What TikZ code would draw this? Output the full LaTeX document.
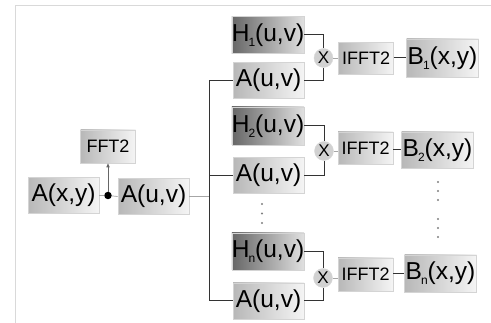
\documentclass[tikz,border=0pt]{standalone}
\usepackage{fontspec}
\setmainfont{Liberation Sans}
\usetikzlibrary{arrows.meta}
\newcommand{\mysub}[1]{\kern-1pt\raisebox{-5pt}{\fontsize{12}{12}\selectfont #1}}
\begin{document}
\begin{tikzpicture}[x=1pt,y=-1pt,
 box/.style={draw=black!17, line width=0.6pt, inner sep=0pt, minimum width=71pt, minimum height=36pt, left color=black!28, right color=black!4, font=\fontsize{24.5}{24.5}\selectfont},
 hbox/.style={box, minimum width=68pt, minimum height=37pt, left color=black!60, right color=black!12},
 opbox/.style={box, minimum width=55pt, minimum height=32pt, font=\fontsize{18}{18}\selectfont},
 mult/.style={circle, draw=black!15, fill=black!18, minimum size=19pt, inner sep=0pt, font=\fontsize{17}{17}\selectfont},
 wire/.style={draw=black!80, line width=1pt},
 lwire/.style={draw=black!35, line width=0.7pt},
 vdot/.style={circle, fill=black!50, inner sep=0pt, minimum size=2.4pt},
]
\fill[white] (0,0) rectangle (491,323);
\useasboundingbox (0,0) rectangle (491,323);
% frame
\draw[black!15, line width=1pt] (15,323) -- (15,6) -- (491,6);

% left part
\node[box] (axy) at (63.5,195.5) {A(x,y)};
\node[box] (auv) at (153.5,196.5) {A(u,v)};
\node[opbox, minimum height=33pt] (fft) at (108,146.5) {FFT2};
\node[circle, fill=black, inner sep=0pt, minimum size=7.5pt] (dot) at (108,195.5) {};
\draw[lwire] (axy.east) -- (dot);
\draw[lwire] (dot) -- (auv.west);
\draw[draw=black!60, line width=0.7pt, -{Triangle[length=4pt,width=3.2pt]}] (dot) -- (fft.south);

% bus
\coordinate (bt) at (209,80.5);
\coordinate (bb) at (209,301);
\coordinate (bm) at (209,196.5);
\draw[lwire] (auv.east) -- (bm);
\draw[wire] (bt) -- (bb);

% group 1
\node[hbox] (h1) at (268,35) {H\mysub{1}(u,v)};
\node[box] (a1) at (268.5,80.5) {A(u,v)};
\node[mult] (m1) at (323.5,58) {X};
\node[opbox] (f1) at (366,58.5) {IFFT2};
\node[box, minimum width=72pt, minimum height=38pt] (b1) at (442.5,58) {B\mysub{1}(x,y)};
% group 2
\node[hbox, minimum height=38pt] (h2) at (268,126) {H\mysub{2}(u,v)};
\node[box] (a2) at (268.5,175.5) {A(u,v)};
\node[mult] (m2) at (324,151) {X};
\node[opbox] (f2) at (365.5,148) {IFFT2};
\node[box, minimum width=72pt, minimum height=36pt] (b2) at (437.5,150) {B\mysub{2}(x,y)};
% group n
\node[hbox] (hn) at (268,251.5) {H\mysub{n}(u,v)};
\node[box] (an) at (268.5,301) {A(u,v)};
\node[mult] (mn) at (323,278) {X};
\node[opbox, minimum height=33pt] (fn) at (365.5,274.5) {IFFT2};
\node[box, minimum width=72pt, minimum height=37pt] (bn) at (440.5,273.5) {B\mysub{n}(x,y)};

% connectors
\foreach \h/\a/\m/\f/\b in {h1/a1/m1/f1/b1, h2/a2/m2/f2/b2, hn/an/mn/fn/bn}{
  \draw[wire] (\h.east) -| (\m.north);
  \draw[wire] (\a.east) -| (\m.south);
  \draw[lwire] (\m.east) -- (\m -| \f.west);
  \draw[wire] (\f.east |- \b) -- (\b.west);
  \draw[wire] (bt |- \a.west) -- (\a.west);
}

% dots
\foreach \y in {204,213.5,223} \node[vdot] at (262,\y) {};
\foreach \y in {182,191,200,219,228,237} \node[vdot] at (438,\y) {};
\end{tikzpicture}
\end{document}
